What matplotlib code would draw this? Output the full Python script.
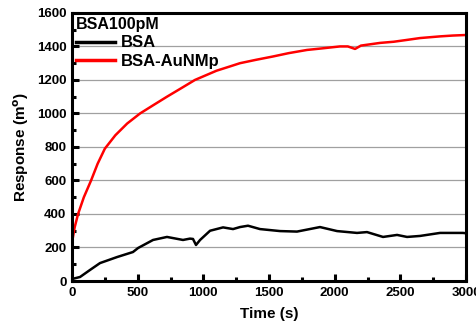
import numpy as np
import matplotlib
matplotlib.use('Agg')
import matplotlib.pyplot as plt
from matplotlib.ticker import MultipleLocator

plt.rcParams['font.family'] = ['Liberation Sans', 'DejaVu Sans']
plt.rcParams['font.weight'] = 'bold'

# BSA-AuNMp (red)
t_red = [0, 20, 46, 90, 145, 195, 250, 330, 420, 518, 620, 723, 830, 936,
         1100, 1200, 1279, 1400, 1530, 1650, 1789, 1900, 2040, 2100, 2155, 2200,
         2345, 2450, 2551, 2650, 2802, 2900, 2993]
v_red = [230, 320, 400, 500, 600, 700, 790, 870, 940, 1000, 1050, 1100, 1150, 1200,
         1255, 1280, 1300, 1320, 1340, 1360, 1379, 1388, 1400, 1400, 1385, 1405,
         1421, 1428, 1439, 1450, 1460, 1465, 1468]

# BSA (black)
t_blk = [0, 61, 137, 213, 343, 464, 503, 617, 723, 845, 898, 921, 944, 975, 1051, 1150,
         1226, 1279, 1340, 1431, 1584, 1713, 1888, 2018, 2170, 2246, 2368, 2475, 2551,
         2650, 2802, 2977, 3000]
v_blk = [12, 24, 66, 107, 143, 173, 197, 245, 263, 245, 253, 251, 215, 245, 300, 320,
         310, 322, 330, 310, 298, 295, 322, 298, 287, 292, 263, 275, 263,
         269, 287, 287, 285]

fig = plt.figure(figsize=(4.77, 3.23), dpi=100)
ax = fig.add_axes([0.151, 0.130, 0.826, 0.830])

ax.plot(t_blk, v_blk, color='black', lw=1.8, label='BSA')
ax.plot(t_red, v_red, color='red', lw=1.8, label='BSA-AuNMp')

ax.set_xlim(0, 3000)
ax.set_ylim(0, 1600)
ax.xaxis.set_major_locator(MultipleLocator(500))
ax.xaxis.set_minor_locator(MultipleLocator(250))
ax.yaxis.set_major_locator(MultipleLocator(200))
ax.yaxis.set_minor_locator(MultipleLocator(100))
ax.yaxis.grid(True, color='#a0a0a0', lw=0.9)
ax.set_axisbelow(True)

for s in ax.spines.values():
    s.set_linewidth(2.2)
ax.tick_params(which='both', direction='in', top=False, right=False, width=2.2)
ax.tick_params(which='major', length=5, labelsize=9.5, pad=4)
ax.tick_params(which='minor', length=3)
for lab in ax.get_xticklabels() + ax.get_yticklabels():
    lab.set_fontweight('bold')

ax.set_xlabel('Time (s)', fontsize=11, fontweight='bold', labelpad=6)
ax.set_ylabel('Response (m$^{\\mathbf{o}}$)', fontsize=11, fontweight='bold')

leg = ax.legend(loc='upper left', title='BSA100pM', frameon=False, fontsize=12,
                title_fontproperties={'weight': 'bold', 'size': 11.5},
                handlelength=2.3, borderaxespad=0.15, borderpad=0.1,
                labelspacing=0.2, handletextpad=0.4)
leg._legend_box.align = 'left'
for line in leg.get_lines():
    line.set_linewidth(2.5)
for txt in leg.get_texts():
    txt.set_fontweight('bold')

fig.savefig('out.png', dpi=100)
